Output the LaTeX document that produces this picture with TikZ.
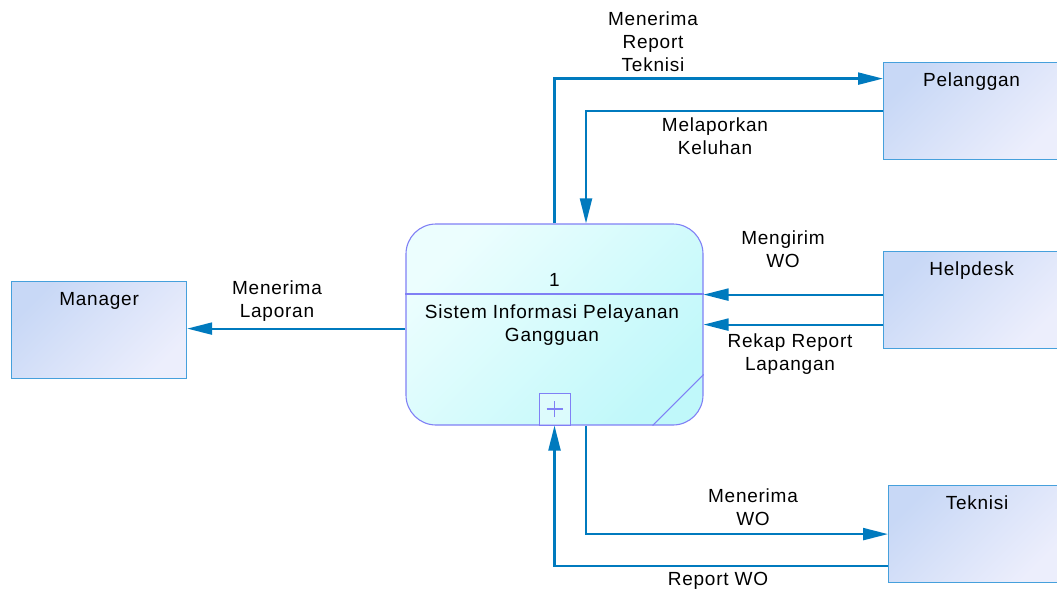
\documentclass[tikz,border=0pt]{standalone}
\usepackage{fontspec}
\setmainfont{Liberation Sans}[LetterSpace=4]
\usetikzlibrary{arrows.meta,calc}
\definecolor{flowc}{RGB}{0,122,190}
\definecolor{entborder}{RGB}{70,160,220}
\definecolor{enttop}{RGB}{200,216,246}
\definecolor{entbot}{RGB}{236,238,252}
\definecolor{procborder}{RGB}{128,128,245}
\definecolor{proctop}{RGB}{236,254,254}
\definecolor{procbot}{RGB}{192,248,250}
\begin{document}
\begin{tikzpicture}[x=1pt,y=-1pt,
  lbl/.style={font=\fontsize{19}{23}\selectfont,align=center,inner sep=0pt},
  entity/.style={draw=entborder,line width=1.2pt,minimum height=97pt,
     top color=enttop,bottom color=entbot,shading angle=45,inner sep=0pt,anchor=north west},
  flow/.style={draw=flowc,line width=2.2pt,-{Triangle[length=25pt,width=12pt]}}]
\useasboundingbox (0,0) rectangle (1057,591);
% process
\node[draw=procborder,line width=1.1pt,rounded corners=30pt,minimum width=297pt,minimum height=201pt,
  top color=proctop,bottom color=procbot,shading angle=45,inner sep=0pt] (proc) at (554.5,324.5) {};
\draw[procborder,line width=1.1pt] (proc.west |- 0,294) coordinate (dl) -- (dl -| proc.east);
\draw[procborder,line width=1.1pt] ([xshift=-51pt]proc.south east) -- ([yshift=51pt]proc.south east);
\node[lbl] (pnum) at (554.5,280) {1};
\node[lbl] (pname) at (552,325) {Sistem Informasi Pelayanan\\Gangguan};
\node[draw=procborder,line width=1pt,fill=white,fill opacity=0.35,draw opacity=1,minimum width=31pt,minimum height=32pt,inner sep=0pt] (pb) at (554.5,409) {};
\draw[procborder,line width=1.2pt] ([xshift=-8pt]pb.center) -- ([xshift=8pt]pb.center)
  ([yshift=-8pt]pb.center) -- ([yshift=8pt]pb.center);
% entities
\node[entity,minimum width=175pt] (mg) at (11,281) {};
\node[lbl,anchor=north] at ([yshift=-11pt]mg.north) {Manager};
\node[entity,minimum width=176pt] (pel) at (883,62) {};
\node[lbl,anchor=north] at ([yshift=-11pt]pel.north) {Pelanggan};
\node[entity,minimum width=176pt] (hd) at (883,251) {};
\node[lbl,anchor=north] at ([yshift=-11pt]hd.north) {Helpdesk};
\node[entity,minimum width=171pt] (tk) at (888,485) {};
\node[lbl,anchor=north] at ([xshift=3pt,yshift=-11pt]tk.north) {Teknisi};
% connectors
\coordinate (p1) at ([yshift=32.5pt]pel.west);
\draw[flow] (proc.north) |- (p1);
\draw[flow] (pel.west) -| ([xshift=31.5pt]proc.north);
\coordinate (h1) at ([yshift=5.5pt]hd.west);
\coordinate (h2) at ([yshift=-24.5pt]hd.west);
\draw[flow] (h1) -- (h1 -| proc.east);
\draw[flow] (h2) -- (h2 -| proc.east);
\coordinate (m1) at ([yshift=1.5pt]mg.east);
\draw[flow] (m1 -| proc.west) -- (m1);
\draw[flow] ([xshift=31.5pt]proc.south) |- (tk.west);
\coordinate (t2) at ([yshift=-31.5pt]tk.west);
\draw[flow] (t2) -| (pb.south);
% labels
\node[lbl] (l1) at (653,42) {Menerima\\Report\\Teknisi};
\node[lbl] (l2) at (715,136) {Melaporkan\\Keluhan};
\node[lbl] (l3) at (783,249.5) {Mengirim\\WO};
\node[lbl] (l4) at (790,354.5) {Rekap Report\\Lapangan};
\node[lbl] (l5) at (277,301.5) {Menerima\\Laporan};
\node[lbl] (l6) at (753,507.5) {Menerima\\WO};
\node[lbl] (l7) at (718,581) {Report WO};
\end{tikzpicture}
\end{document}
